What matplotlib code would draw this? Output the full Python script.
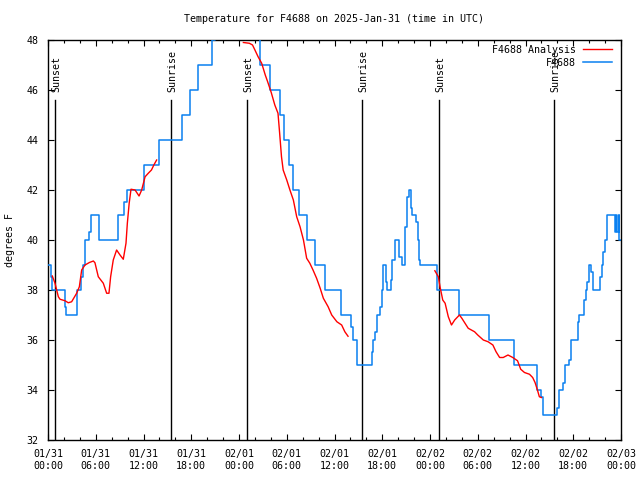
import matplotlib
matplotlib.use("Agg")
import matplotlib.pyplot as plt
from matplotlib.ticker import MultipleLocator

# ---- data (hours since 2025-01-31 00:00 UTC) ----
station_hours = [0.0, 0.35, 0.55, 2.1, 2.3, 3.6, 4.1, 4.4, 4.7, 5.15, 5.35, 6.45, 8.8, 9.5, 9.9,
                 12.06, 13.9, 16.8, 17.9, 18.9, 20.6, 21.0, 26.6, 27.9, 29.1, 29.66, 30.3, 30.83,
                 31.6, 32.5, 33.6, 34.85, 36.8, 38.07, 38.28, 38.8, 40.67, 40.88, 41.09, 41.3,
                 41.72, 41.93, 42.14, 42.47, 42.64, 43.05, 43.18, 43.6, 44.15, 44.44, 44.86,
                 45.07, 45.41, 45.57, 45.7, 46.25, 46.45, 46.66, 46.75, 48.84, 51.7, 55.45,
                 58.55, 61.49, 62.0, 62.16, 64.0, 64.2, 64.76, 64.97, 65.5, 65.68, 66.64, 66.77,
                 67.4, 67.56, 67.77, 67.98, 68.2, 68.44, 69.36, 69.57, 69.8, 70.0, 70.2, 71.25,
                 71.4, 71.55, 71.7, 71.8, 72.0]
station_temp = [39, 38.5, 38, 37.3, 37, 38, 38.5, 39, 40, 40.3, 41, 40, 41, 41.5, 42,
                43, 44, 45, 46, 47, 48, 49, 47, 46, 45, 44, 43, 42,
                41, 40, 39, 38, 37, 36.5, 36, 35, 35.5, 36, 36.3, 37,
                37.3, 38, 39, 38.3, 38, 38.4, 39.2, 40, 39.3, 39, 40.5,
                41.7, 42, 41.3, 41, 40.7, 40, 39.2, 39, 38, 37, 36,
                35, 34, 33.7, 33, 33.3, 34, 34.3, 35, 35.2, 36, 36.7, 37,
                37.6, 38, 38.3, 39, 38.7, 38, 38.5, 39, 39.5, 40, 41, 40.3,
                41, 40.3, 41, 40, 40]

analysis_hours_1 = [0.54, 0.88, 1.30, 1.51, 2.14, 2.55, 2.97, 3.6, 3.94, 4.23, 4.65, 5.2, 5.7, 5.9,
                    6.32, 6.95, 7.37, 7.66, 7.87, 8.2, 8.62, 9.05, 9.46, 9.8, 9.97, 10.2, 10.43,
                    10.94, 11.44, 11.77, 12.2, 12.6, 13.0, 13.3, 13.65]
analysis_temp_1 = [38.56, 38.27, 37.73, 37.63, 37.57, 37.49, 37.53, 37.87, 38.13, 38.8, 39.0, 39.1,
                   39.16, 39.09, 38.53, 38.27, 37.87, 37.87, 38.53, 39.2, 39.6, 39.4, 39.23, 39.87,
                   40.67, 41.47, 42.03, 42.0, 41.76, 42.0, 42.53, 42.67, 42.8, 43.0, 43.2]
analysis_hours_2 = [24.55, 25.3, 25.7, 26.0, 26.4, 26.85, 27.3, 27.6, 28.05, 28.5, 28.9, 29.1, 29.34,
                    29.55, 30.0, 30.4, 30.83, 31.25, 31.67, 32.1, 32.5, 32.9, 33.3, 33.75, 34.2,
                    34.6, 35.2, 35.65, 36.3, 36.9, 37.3, 37.7]
analysis_temp_2 = [47.9, 47.87, 47.8, 47.6, 47.33, 47.07, 46.6, 46.33, 45.9, 45.4, 45.07, 44.3, 43.33,
                   42.8, 42.4, 42.0, 41.6, 40.93, 40.53, 40.0, 39.27, 39.07, 38.8, 38.47, 38.07,
                   37.67, 37.33, 37.0, 36.73, 36.6, 36.33, 36.15]
analysis_hours_3 = [48.61, 49.05, 49.26, 49.6, 49.9, 50.3, 50.7, 51.1, 51.7, 52.0, 52.4, 52.8, 53.6,
                    54.0, 54.7, 55.3, 55.9, 56.3, 56.75, 57.2, 57.8, 58.4, 59.0, 59.4, 59.87, 60.5,
                    60.9, 61.2, 61.5, 61.74, 62.0]
analysis_temp_3 = [38.77, 38.53, 38.13, 37.6, 37.47, 36.93, 36.6, 36.8, 37.0, 36.87, 36.67, 36.47,
                   36.33, 36.2, 36.0, 35.93, 35.8, 35.53, 35.3, 35.3, 35.4, 35.3, 35.17, 34.83,
                   34.7, 34.63, 34.5, 34.3, 34.0, 33.73, 33.7]

sun_event_hours = [0.88, 15.46, 25.0, 39.46, 49.13, 63.6]
sun_event_labels = ["Sunset", "Sunrise", "Sunset", "Sunrise", "Sunset", "Sunrise"]

xtick_hours = [0, 6, 12, 18, 24, 30, 36, 42, 48, 54, 60, 66, 72]
xtick_labels = ["01/31\n00:00", "01/31\n06:00", "01/31\n12:00", "01/31\n18:00",
                "02/01\n00:00", "02/01\n06:00", "02/01\n12:00", "02/01\n18:00",
                "02/02\n00:00", "02/02\n06:00", "02/02\n12:00", "02/02\n18:00",
                "02/03\n00:00"]
ytick_values = [32, 34, 36, 38, 40, 42, 44, 46, 48]

# ---- plot ----
plt.rcParams['font.family'] = ['DejaVu Sans Mono']
FS = 7.2
W, H = 640, 480
fig = plt.figure(figsize=(6.4, 4.8), dpi=100)
ax = fig.add_axes([48 / W, 40 / H, (621 - 48) / W, (440 - 40) / H])

RED = '#ff0000'
BLUE = '#0a80f0'

ax.plot(station_hours, station_temp, drawstyle='steps-post', color=BLUE, lw=1.1, label='F4688', zorder=3)
ax.plot(analysis_hours_1, analysis_temp_1, color=RED, lw=1.0, label='F4688 Analysis', zorder=4)
ax.plot(analysis_hours_2, analysis_temp_2, color=RED, lw=1.0, zorder=4)
ax.plot(analysis_hours_3, analysis_temp_3, color=RED, lw=1.0, zorder=4)

for h, lab in zip(sun_event_hours, sun_event_labels):
    ax.axvline(h, ymin=0, ymax=(45.6 - 32) / 16, color='black', lw=1.0, zorder=2)
    ax.text(h + 0.15, 45.92, lab, rotation=90, ha='center', va='bottom', fontsize=FS, zorder=5)

ax.set_xlim(0, 72)
ax.set_ylim(32, 48)
ax.set_xticks(xtick_hours)
ax.set_xticklabels(xtick_labels, fontsize=FS, linespacing=1.3)
ax.xaxis.set_minor_locator(MultipleLocator(2))
ax.set_yticks(ytick_values)
ax.set_yticklabels([str(v) for v in ytick_values], fontsize=FS)
ax.tick_params(axis='both', which='major', direction='in', length=4.5, width=0.8,
               top=True, right=True)
ax.tick_params(axis='x', which='major', pad=6.5)
ax.tick_params(axis='y', which='major', pad=7)
ax.tick_params(axis='x', which='minor', direction='in', length=2.5, width=0.8, top=True)
for s in ax.spines.values():
    s.set_linewidth(1.0)
    s.set_color('black')

fig.text(334 / W, 1 - 19 / H, "Temperature for F4688 on 2025-Jan-31 (time in UTC)",
         ha='center', va='center', fontsize=FS)
fig.text(10 / W, 1 - 240 / H, "degrees F", rotation=90, ha='center', va='center', fontsize=FS)

# legend (gnuplot style: text right-aligned, sample line to the right)
handles, labels = ax.get_legend_handles_labels()
order = [1, 0]
leg = ax.legend([handles[i] for i in order], [labels[i] for i in order],
                loc='upper right', bbox_to_anchor=(1.0, 1.012), frameon=False, fontsize=FS,
                markerfirst=False, handlelength=2.9, handletextpad=0.65, labelspacing=0.3,
                borderaxespad=0.75, borderpad=0.2)
for t in leg.get_texts():
    t.set_ha('right')
leg._legend_box.align = 'right'

fig.savefig('out.png', dpi=100)
